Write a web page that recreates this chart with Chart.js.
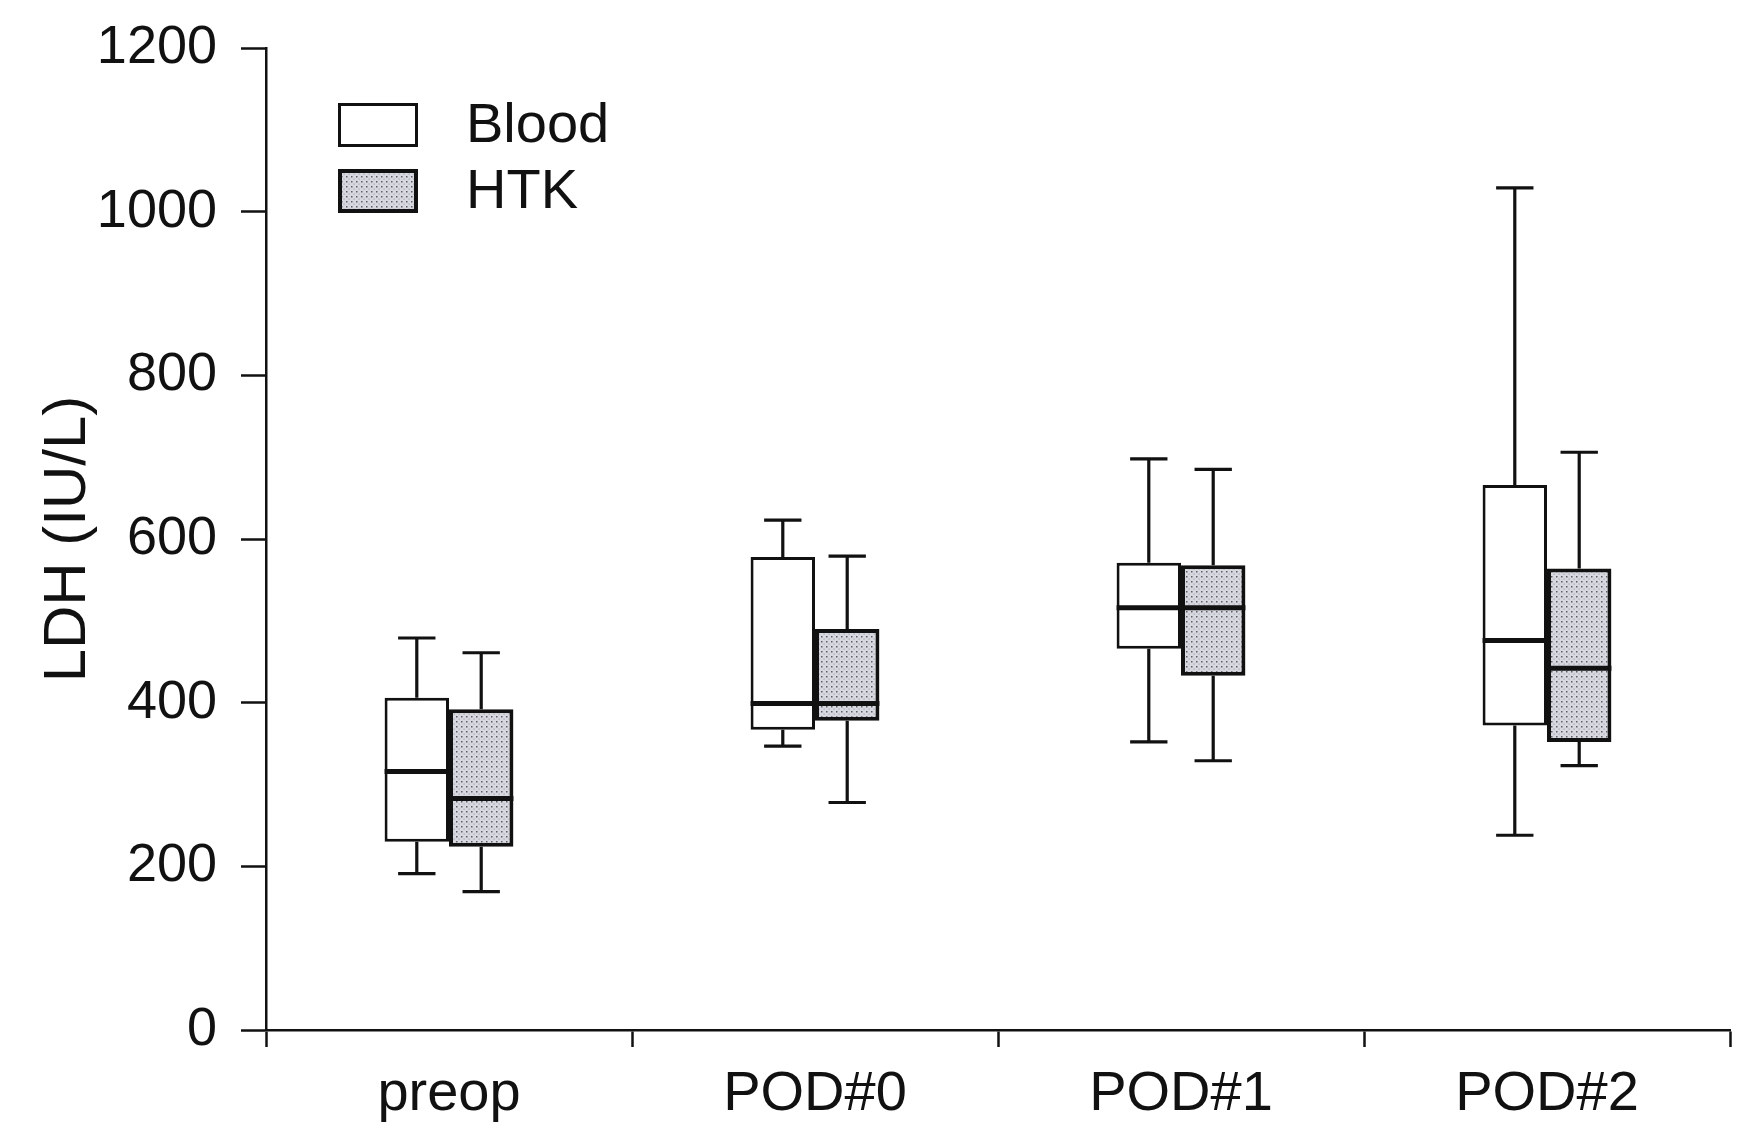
<!DOCTYPE html>
<html>
<head>
<meta charset="utf-8">
<title>LDH box plot</title>
<script src="https://cdn.jsdelivr.net/npm/chart.js@4.4.1/dist/chart.umd.min.js"></script>
<style>
  html, body { margin: 0; padding: 0; background: #fff; }
  #wrap { width: 1762px; height: 1128px; position: relative; }
</style>
</head>
<body>
<div id="wrap"><canvas id="ldhChart"></canvas></div>
<script>
// values (IU/L)
const categories = ['preop', 'POD#0', 'POD#1', 'POD#2'];

const bloodMin    = [191, 347, 352, 238];
const bloodQ1     = [230, 367, 466, 372];
const bloodMedian = [316, 399, 516, 476];
const bloodQ3     = [406, 578, 571, 666];
const bloodMax    = [479, 623, 698, 1029];

const htkMin    = [169, 278, 329, 323];
const htkQ1     = [224, 378, 433, 352];
const htkMedian = [283, 399, 516, 442];
const htkQ3     = [392, 490, 568, 564];
const htkMax    = [461, 579, 685, 706];

const yTicks = [0, 200, 400, 600, 800, 1000, 1200];

const FONT = '"Liberation Sans", Arial, sans-serif';
Chart.defaults.font.family = FONT;
Chart.defaults.color = '#111';

// grey stipple used for the HTK boxes
function stipple() {
    const c = document.createElement('canvas');
    c.width = 5; c.height = 5;
    const g = c.getContext('2d');
    g.fillStyle = '#d7d8e0';
    g.fillRect(0, 0, 5, 5);
    g.fillStyle = '#5c5d64';
    g.fillRect(1, 1, 1.5, 1.5);
    g.fillStyle = '#a4a5ad';
    g.fillRect(3.5, 3.5, 1.2, 1.2);
    return g.createPattern(c, 'repeat');
}

const boxes = (q1, q3) => q1.map((v, i) => [v, q3[i]]);

// whiskers, caps and medians on top of the floating bars, plus the legend
const boxplot = {
    id: 'boxplot',
    afterDatasetsDraw(chart) {
        const ctx = chart.ctx;
        const y = chart.scales.y;
        chart.data.datasets.forEach((ds, di) => {
            const meta = chart.getDatasetMeta(di);
            meta.data.forEach((bar, i) => {
                const w = bar.width;
                const x = bar.x;
                const pMin = y.getPixelForValue(ds.stats.min[i]);
                const pMax = y.getPixelForValue(ds.stats.max[i]);
                const pQ1 = y.getPixelForValue(ds.data[i][0]);
                const pQ3 = y.getPixelForValue(ds.data[i][1]);
                const pMed = y.getPixelForValue(ds.stats.median[i]);
                const cap = w * 0.29;
                ctx.save();
                ctx.strokeStyle = '#111';
                ctx.lineWidth = 3.2;
                ctx.beginPath();
                ctx.moveTo(x, pQ3); ctx.lineTo(x, pMax);
                ctx.moveTo(x - cap, pMax); ctx.lineTo(x + cap, pMax);
                ctx.moveTo(x, pQ1); ctx.lineTo(x, pMin);
                ctx.moveTo(x - cap, pMin); ctx.lineTo(x + cap, pMin);
                ctx.stroke();
                ctx.lineWidth = 5;
                ctx.beginPath();
                ctx.moveTo(x - w / 2, pMed); ctx.lineTo(x + w / 2, pMed);
                ctx.stroke();
                ctx.restore();
            });
        });
    },
    afterDraw(chart) {
        // legend in the upper-left corner of the plot
        const ctx = chart.ctx;
        const area = chart.chartArea;
        const bx = area.left + 72, by = area.top + 55, bw = 80, bh = 44, step = 66;
        ctx.save();
        chart.data.datasets.forEach((ds, di) => {
            const top = by + di * step;
            const lw = ds.borderWidth;
            ctx.fillStyle = ds.backgroundColor;
            ctx.fillRect(bx, top, bw, bh);
            ctx.lineWidth = lw;
            ctx.strokeStyle = ds.borderColor;
            ctx.strokeRect(bx + lw / 2, top + lw / 2, bw - lw, bh - lw);
            ctx.fillStyle = '#111';
            ctx.font = '56px ' + FONT;
            ctx.textBaseline = 'middle';
            ctx.textAlign = 'left';
            ctx.fillText(ds.label, bx + bw + 48, top + bh / 2 + 2);
        });
        ctx.restore();
    }
};

const ctx = document.getElementById('ldhChart').getContext('2d');
new Chart(ctx, {
    type: 'bar',
    data: {
        labels: categories,
        datasets: [
            {
                label: 'Blood',
                data: boxes(bloodQ1, bloodQ3),
                stats: { min: bloodMin, median: bloodMedian, max: bloodMax },
                backgroundColor: '#ffffff',
                borderColor: '#111',
                borderWidth: 3,
                borderSkipped: false,
                categoryPercentage: 0.352,
                barPercentage: 1.0
            },
            {
                label: 'HTK',
                data: boxes(htkQ1, htkQ3),
                stats: { min: htkMin, median: htkMedian, max: htkMax },
                backgroundColor: stipple(),
                borderColor: '#111',
                borderWidth: 4,
                borderSkipped: false,
                categoryPercentage: 0.352,
                barPercentage: 1.0
            }
        ]
    },
    options: {
        responsive: true,
        maintainAspectRatio: false,
        animation: false,
        layout: { autoPadding: false, padding: { top: 48, right: 32, left: 0, bottom: 0 } },
        plugins: {
            tooltip: { enabled: false },
            legend: { display: false }
        },
        scales: {
            x: {
                afterFit: s => { s.height = 98; },
                grid: {
                    offset: true,
                    drawOnChartArea: false,
                    tickLength: 17,
                    tickWidth: 2.5,
                    tickColor: '#111'
                },
                border: { color: '#111', width: 2.5 },
                ticks: { font: { size: 56 }, color: '#111', padding: 14 }
            },
            y: {
                min: 0,
                max: 1200,
                afterFit: s => {
                    s.width = 266;
                    s.paddingTop = 10;
                    s.paddingBottom = 10;
                },
                afterBuildTicks: s => { s.ticks = yTicks.map(v => ({ value: v })); },
                grid: {
                    drawOnChartArea: false,
                    tickLength: 25,
                    tickWidth: 2.5,
                    tickColor: '#111'
                },
                border: { color: '#111', width: 2.5 },
                ticks: {
                    font: { size: 54 },
                    color: '#111',
                    padding: 24,
                    callback: v => String(v)
                },
                title: {
                    display: true,
                    text: 'LDH (IU/L)',
                    color: '#111',
                    font: { size: 60 },
                    padding: { top: 32, bottom: 0 }
                }
            }
        }
    },
    plugins: [boxplot]
});
</script>
</body>
</html>
